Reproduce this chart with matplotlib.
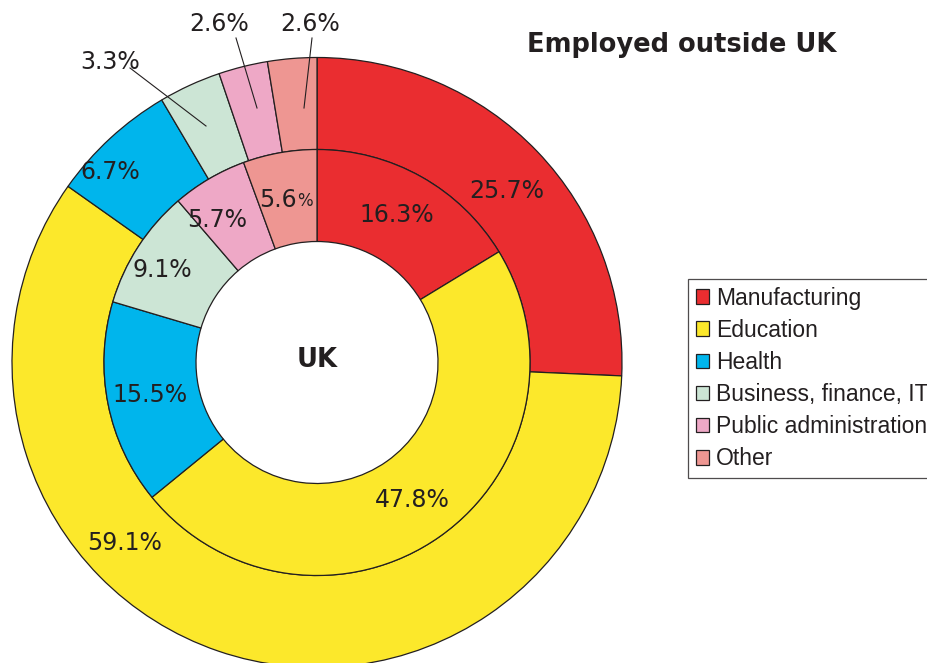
import numpy as np
import matplotlib.pyplot as plt

sectors = ["Manufacturing", "Education", "Health", "Business, finance, IT",
           "Public administration", "Other"]
outside_uk = [25.7, 59.1, 6.7, 3.3, 2.6, 2.6]
uk = [16.3, 47.8, 15.5, 9.1, 5.7, 5.6]
colors = ["#ea2d30", "#fce82b", "#00b5ec", "#cce5d5", "#eea8c6", "#ee9692"]

W, H = 928, 663
txt = "#231f20"

fig = plt.figure(figsize=(W / 100, H / 100), dpi=100)
ax = fig.add_axes([0, 0, 1, 1])

# centre and radii in pixels (y measured from the top of the image)
cx, cy = 317, 362.5
R_out, R_mid, R_in = 305, 213, 121


def P(x, y):
    return x, H - y


wedge_kw = dict(edgecolor="#231f20", linewidth=0.9)
outer, _ = ax.pie(outside_uk, colors=colors, startangle=90, counterclock=False,
                  radius=R_out, center=P(cx, cy), frame=True,
                  wedgeprops=dict(width=R_out - R_mid, **wedge_kw))
inner, _ = ax.pie(uk, colors=colors, startangle=90, counterclock=False,
                  radius=R_mid, center=P(cx, cy), frame=True,
                  wedgeprops=dict(width=R_mid - R_in, **wedge_kw))
ax.set_xlim(0, W)
ax.set_ylim(0, H)
ax.set_aspect("equal")
ax.axis("off")

fs = 17
# inner ring labels (pixel positions)
in_pos = [(397, 215), (412, 500), (150, 395), (162, 270), (217, 220), (284, 200)]
for v, (x, y) in zip(uk, in_pos):
    if v == 5.6:
        ax.text(*P(x + 13, y), "5.6", ha="right", va="center", fontsize=fs, color=txt)
        ax.text(*P(x + 13, y + 1), "%", ha="left", va="center", fontsize=fs * 0.7, color=txt)
    else:
        ax.text(*P(x, y), f"{v}%", ha="center", va="center", fontsize=fs, color=txt)

# outer ring labels, some with leader lines
out_pos = [(507, 191), (125, 543), (110, 172), (110, 62), (219, 24), (310, 24)]
leaders = [None, None, None, ((130, 68), (206, 126)), ((236, 38), (257, 108)),
           ((312, 38), (304, 108))]
for v, (x, y), ld in zip(outside_uk, out_pos, leaders):
    ax.text(*P(x, y), f"{v}%", ha="center", va="center", fontsize=fs, color=txt)
    if ld:
        (x0, y0), (x1, y1) = ld
        ax.plot([x0, x1], [H - y0, H - y1], color=txt, lw=0.8)

ax.text(*P(cx, 360), "UK", ha="center", va="center", fontsize=18.5,
        fontweight="bold", color=txt)
ax.text(*P(682, 45), "Employed outside UK", ha="center", va="center",
        fontsize=18.5, fontweight="bold", color=txt)

leg = ax.legend(outer, sectors, loc="upper left",
                bbox_to_anchor=(688 / W, 1 - 279 / H), borderaxespad=0,
                prop={"family": "Liberation Sans", "size": 16.5},
                frameon=True, fancybox=False, edgecolor="#231f20",
                handlelength=0.6, handleheight=0.6, handletextpad=0.28,
                labelspacing=0.40, borderpad=0.33)
leg.get_frame().set_linewidth(0.9)
for t in leg.get_texts():
    t.set_color(txt)

fig.savefig("out.png", dpi=100)
